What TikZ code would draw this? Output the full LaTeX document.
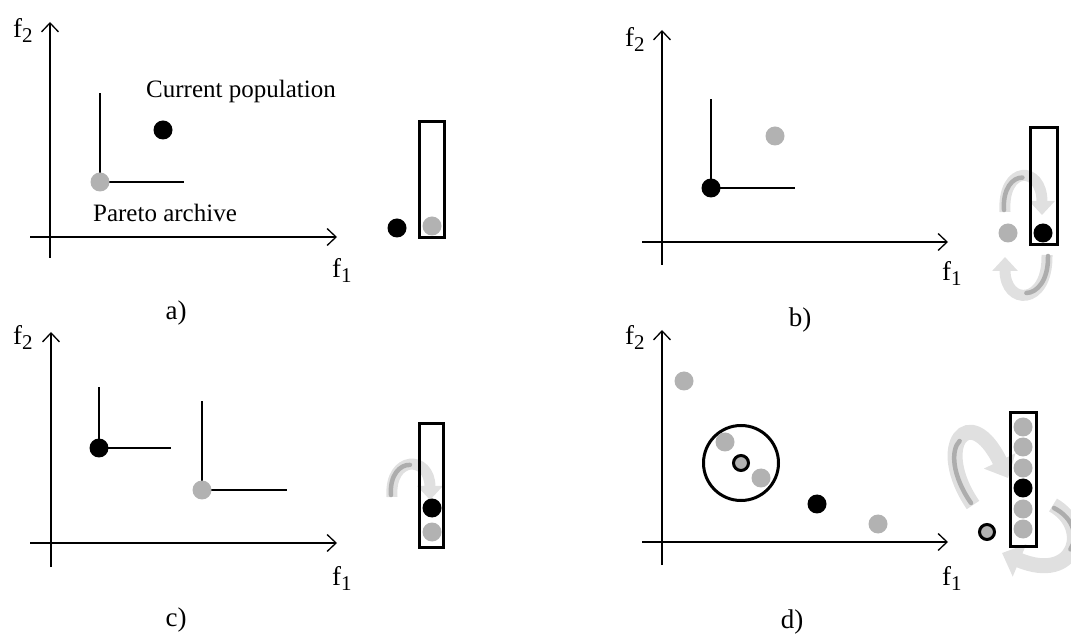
\documentclass[tikz,border=0pt]{standalone}
\usepackage{fontspec}
\setmainfont{Liberation Serif}
\usetikzlibrary{arrows.meta}

\newcommand{\fobj}[1]{f\raisebox{-5pt}{\fontsize{21}{21}\selectfont #1}}

\tikzset{
  axis/.style={line width=1.3pt, -{Straight Barb[length=9pt,width=17pt]}},
  dom/.style={line width=1.1pt},
  archive/.style={draw, line width=3pt},
  popdot/.style={circle, fill=black, inner sep=0pt, minimum size=19pt},
  pardot/.style={circle, fill=black!30, inner sep=0pt, minimum size=19pt},
  ringdot/.style={circle, draw, line width=3pt, fill=black!30, inner sep=0pt, minimum size=15pt},
  nbhd/.style={circle, draw, line width=3pt, inner sep=0pt, minimum size=75pt},
  lbl/.style={anchor=base west, inner sep=0pt, font=\fontsize{27}{30}\selectfont},
  txt/.style={anchor=base, inner sep=0pt, font=\fontsize{25}{30}\selectfont},
  capt/.style={anchor=base, inner sep=0pt, font=\fontsize{27}{30}\selectfont},
  move/.style={line width=11pt, draw=black!12, -{Triangle[length=14pt,width=25pt]}},
  bigmove/.style={line width=15pt, draw=black!12, -{Triangle[length=19pt,width=34pt]}},
  stripe/.style={line width=4.5pt, draw=black!32, line cap=round}
}

\begin{document}
\begin{tikzpicture}[x=1pt,y=1pt]
    \useasboundingbox (0,0) rectangle (1071,643);

    % a) current population and Pareto archive
    \begin{scope}[shift={(50,406)}]
        \draw[axis] (0,-21) -- (0,215);
        \draw[axis] (-20,0) -- (287,0);
        \node[lbl] (fa2) at (-37,199) {\fobj{2}};
        \node[lbl] (fa1) at (282,-41) {\fobj{1}};

        \coordinate (pa) at (50,55);
        \draw[dom] (pa) -- ++(0,89);
        \draw[dom] (pa) -- ++(84,0);
        \node[pardot] (pa dot) at (pa) {};
        \node[popdot] (xa) at (113,107) {};
        \node[txt] (curpop) at (191,139) {Current population};
        \node[txt] (parlab) at (115,15) {Pareto archive};

        \draw[archive] (369,-1) rectangle (394,115);
        \node[popdot] (xa out) at (347,9) {};
        \node[pardot] (pa in) at (382,11) {};
        \node[capt] (capa) at (126,-83) {a)};
    \end{scope}

    % b) new point dominates the archive member
    \begin{scope}[shift={(662,401)}]
        \draw[axis] (0,-23) -- (0,212);
        \draw[axis] (-20,0) -- (286,0);
        \node[lbl] (fb2) at (-37,195) {\fobj{2}};
        \node[lbl] (fb1) at (280,-39) {\fobj{1}};

        \coordinate (xb) at (49,54);
        \draw[dom] (xb) -- ++(0,89);
        \draw[dom] (xb) -- ++(84,0);
        \node[popdot] (xb dot) at (xb) {};
        \node[pardot] (pb) at (113,106) {};

        \draw[move] (343,30) .. controls (340,77) and (380,77) .. (380,27);
        \draw[stripe] (342,32) .. controls (340.5,53.5) and (350.75,64.75) .. (360.4,64.4);
        \draw[move] (385,-13) .. controls (386,-64) and (343,-64) .. (343,-15);
        \draw[stripe] (386,-14) .. controls (386.5,-38.5) and (375,-50.75) .. (364.4,-51);

        \draw[archive] (368,-3) rectangle (395,114);
        \node[popdot] (xb in) at (381,9) {};
        \node[pardot] (pb out) at (346,9) {};
        \node[capt] (capb) at (138,-85) {b)};
    \end{scope}

    % c) mutually non-dominated points
    \begin{scope}[shift={(51,100)}]
        \draw[axis] (0,-24) -- (0,211);
        \draw[axis] (-21,0) -- (286,0);
        \node[lbl] (fc2) at (-38,198) {\fobj{2}};
        \node[lbl] (fc1) at (281,-42) {\fobj{1}};

        \coordinate (xc) at (48,95);
        \draw[dom] (xc) -- ++(0,61);
        \draw[dom] (xc) -- ++(72,0);
        \node[popdot] (xc dot) at (xc) {};
        \coordinate (pc) at (151,53);
        \draw[dom] (pc) -- ++(0,89);
        \draw[dom] (pc) -- ++(85,0);
        \node[pardot] (pc dot) at (pc) {};

        \draw[move] (341,46) .. controls (338,88) and (379,88) .. (379,43);
        \draw[stripe] (340,48) .. controls (338.5,68) and (349,78.5) .. (358.9,78.1);

        \draw[archive] (368,-4) rectangle (392,119);
        \node[popdot] (xc in) at (381,35) {};
        \node[pardot] (pc in) at (381,11) {};
        \node[capt] (capc) at (125,-83) {c)};
    \end{scope}

    % d) full archive, crowded point replaced
    \begin{scope}[shift={(662,101)}]
        \draw[axis] (0,-23) -- (0,212);
        \draw[axis] (-20,0) -- (286,0);
        \node[lbl] (fd2) at (-37,197) {\fobj{2}};
        \node[lbl] (fd1) at (280,-43) {\fobj{1}};

        \node[pardot] (pd1) at (22,161) {};
        \node[nbhd] (crowd) at (79,79) {};
        \node[pardot] (pd2) at (63,100) {};
        \node[ringdot] (rd) at (79,79) {};
        \node[pardot] (pd3) at (99,64) {};
        \node[popdot] (xd) at (155,38) {};
        \node[pardot] (pd4) at (216,18) {};

        \draw[bigmove] (311,37) .. controls (270,97) and (308,142) .. (346,64);
        \draw[stripe] (309,39) .. controls (289.5,67) and (288.75,92.25) .. (297.6,101);
        \draw[bigmove] (391,37) .. controls (430,15) and (414,-42) .. (340,-11);
        \draw[stripe] (392,34) .. controls (411.5,24) and (416.75,5.25) .. (408.4,-7.4);

        \draw[archive] (348,-4) rectangle (374,129);
        \foreach \y in {115,95,74,33,13}
            \node[pardot] (pd in \y) at (361,\y) {};
        \node[popdot] (xd in) at (361,54) {};
        \node[ringdot] (rd out) at (325,10) {};
        \node[capt] (capd) at (130,-86) {d)};
    \end{scope}
\end{tikzpicture}
\end{document}
